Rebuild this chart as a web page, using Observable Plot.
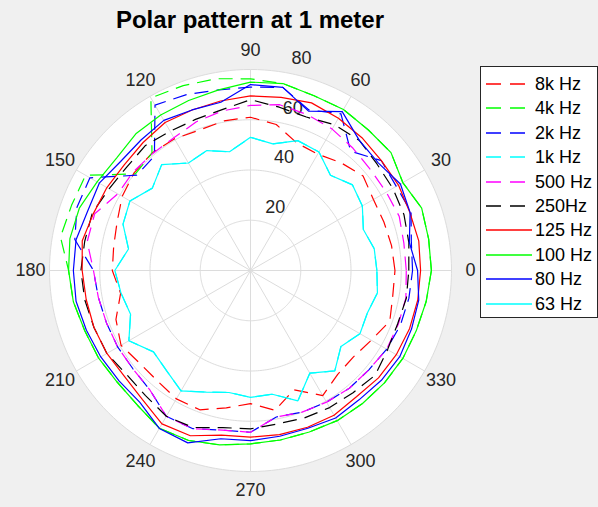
<!DOCTYPE html>
<html>
<head>
<meta charset="utf-8">
<script src="https://cdn.jsdelivr.net/npm/d3@7"></script>
<script src="https://cdn.jsdelivr.net/npm/@observablehq/plot@0.6"></script>
<style>
  html, body { margin: 0; padding: 0; background: #f0f0f0; }
  #wrap { position: relative; width: 598px; height: 507px; overflow: hidden;
          font-family: "Liberation Sans", Arial, Helvetica, sans-serif; }
  #wrap > svg { position: absolute; left: 0; top: 0; }
  #title { position: absolute; left: 0; top: 8px; width: 500px; text-align: center;
           font-weight: bold; font-size: 24px; line-height: 24px; color: #000; }
  #legend { position: absolute; left: 480px; top: 66px; width: 118px; height: 252px;
            background: #fff; border: 1px solid #262626; box-sizing: border-box; }
  #legend .row { position: absolute; left: 0; height: 22px; width: 116px; }
  #legend .row svg { position: absolute; left: 5px; top: 9px; }
  #legend .row span { position: absolute; left: 54px; top: 0; font-size: 18px; line-height: 22px;
                      color: #000; white-space: nowrap; }
</style>
</head>
<body>
<div id="wrap">
  <div id="title">Polar pattern at 1 meter</div>
  <div id="legend"></div>
</div>
<script>
// Measurement angles in degrees (0 = right, counter-clockwise)
const angles = d3.range(0, 360, 10);

// Sound level per angle for each frequency band
const hz8k  = [57.5,57,56.5,56.5,58.5,56,53.5,54,59,61,60.5,59.5,60.5,61,60.5,59,56.5,55.3,55,52.5,57,59.5,57.5,57.5,59,59,55.5,53,56.5,50.5,57.5,54,53.5,55.5,59,57.5];
const hz4k  = [72,72,72.5,70,73,73,74,74,75.5,76.3,77.5,78.3,79.3,61,59.8,75.8,75.8,76.8,72.4,71.6,70.2,69.8,69.2,70,72.5,72,70.5,69,68.5,68.4,69,69.2,69.6,70,70.2,71];
const hz2k  = [64.5,65,68,67,68,62,72,68,74,73,73,74.5,76,59.5,59,73.8,73.5,71,62.5,61.5,61,61,61,62.2,67,67,64.5,64.4,59.2,60,60.5,61.2,61.5,62.6,63.5,64];
const hz1k  = [50.3,50,47.8,51.4,53,49.5,54.5,55,51.2,53,48,50.8,49.4,55,51,55.4,54,49.3,54,52.3,50.8,55.9,50.4,52,55.3,51.5,49.3,50.5,50,55.2,47.2,52.2,47,50.3,49.5,51.3];
const hz500 = [62,62,63,62.4,62.4,63.5,65,66,67,65.7,64.5,63,61,60.7,61,61,66,66,62.5,61.5,61,61,61,62.2,67,67,64.5,64.4,59.2,60,60.5,61.2,61.5,62.6,62.6,62.8];
const hz250 = [63,64,65,65.4,65.8,67.5,67,65,66,68,65,64,64,65,64.2,65,67,67,67.5,67,66.3,66,64.4,65,67,66.5,63.5,63,62,62.5,63,63.5,64.8,63,62.3,63];
const hz125 = [67.7,68,67.5,68,68,69,70,71,70,69.5,68.5,68,68,66.5,65.5,66,66.5,68,67,66.4,66.3,66,65.5,67,70.5,70,66.5,66.3,66.3,66.4,66.5,65.6,66.5,67,67.4,67.6];
const hz100 = [72,72,72.5,70,73,73,74,74,75.5,75,73,72,71.5,71,69.6,70.5,72.5,73,72.4,71.6,70.2,69.8,69.2,70,72.5,72,70.5,69,68.5,68.4,69,69.2,69.6,70,70.2,71];
const hz80  = [66.5,64.2,67.6,68.9,66.5,67.5,73,67.5,74,74,68,68,69,67.8,67.5,69.5,69,70.5,70.5,70.5,69.5,68.8,68.3,68.5,72.6,73,68,67.7,67,66.8,67.8,67.2,68,68.6,68.2,68];
const hz63  = [50.3,50,47.8,51.4,53,49.5,54.5,55,51.2,53,48,50.8,49.4,55,51,55.4,54,49.3,54,52.3,50.8,55.9,50.4,52,55.3,51.5,49.3,50.5,50,55.2,47.2,52.2,47,50.3,49.5,51.3];

const seriesNames  = ["8k Hz", "4k Hz", "2k Hz", "1k Hz", "500 Hz", "250Hz", "125 Hz", "100 Hz", "80 Hz", "63 Hz"];
const seriesValues = [hz8k, hz4k, hz2k, hz1k, hz500, hz250, hz125, hz100, hz80, hz63];
const seriesColors = ["#ff0000", "#00ff00", "#0000ff", "#00ffff", "#ff00ff", "#000000", "#ff0000", "#00ff00", "#0000ff", "#00ffff"];
const seriesDashed = [true, true, true, true, true, true, false, false, false, false];

// Polar axes ticks
const ringTicks  = [20, 40, 60, 80];
const spokeTicks = d3.range(0, 360, 30);
const R_MAX = 80;

// Layout of the polar axes inside the SVG
const W = 598, H = 507, CX = 250, CY = 270, R_PX = 201;
const k = R_PX / R_MAX;
const LABEL_R = 220 / k;
const DASH = "14,8";
const GRID = "#dcdcdc";
const TEXT = "#262626";

const rad = (a) => a * Math.PI / 180;
const px = (a, r) => r * Math.cos(rad(a));
const py = (a, r) => r * Math.sin(rad(a));

const circleSteps = d3.range(0, 360, 1);
const ringPoints = ringTicks.flatMap((r) => circleSteps.map((a) => ({a, r})));

const seriesMarks = seriesValues.map((values, i) =>
  Plot.line(values.map((r, j) => ({a: angles[j], r})), {
    x: (d) => px(d.a, d.r),
    y: (d) => py(d.a, d.r),
    stroke: seriesColors[i],
    strokeWidth: 1.2,
    strokeDasharray: seriesDashed[i] ? DASH : null,
    strokeLinecap: "butt",
    strokeLinejoin: "miter",
    curve: "linear-closed"
  })
);

const chart = Plot.plot({
  width: W,
  height: H,
  margin: 0,
  x: {domain: [-CX / k, (W - CX) / k], range: [0, W], axis: null},
  y: {domain: [-(H - CY) / k, CY / k], range: [H, 0], axis: null},
  style: {background: "transparent", fontFamily: "'Liberation Sans', Arial, Helvetica, sans-serif"},
  marks: [
    // white plotting disc
    Plot.line(circleSteps, {
      x: (a) => px(a, R_MAX), y: (a) => py(a, R_MAX),
      fill: "white", stroke: "none", curve: "linear-closed"
    }),
    // concentric rings
    Plot.line(ringPoints, {
      x: (d) => px(d.a, d.r), y: (d) => py(d.a, d.r), z: "r",
      stroke: GRID, strokeWidth: 1, curve: "linear-closed"
    }),
    // radial spokes
    Plot.link(spokeTicks, {
      x1: () => 0, y1: () => 0,
      x2: (a) => px(a, R_MAX), y2: (a) => py(a, R_MAX),
      stroke: GRID, strokeWidth: 1
    }),
    // radius tick labels along 80°
    Plot.text(ringTicks, {
      x: (r) => px(80, r), y: (r) => py(80, r),
      text: (r) => String(r), dx: 16, dy: -14,
      fontSize: 18, fill: TEXT
    }),
    ...seriesMarks,
    // angle tick labels
    Plot.text(spokeTicks, {
      x: (a) => px(a, LABEL_R), y: (a) => py(a, LABEL_R),
      text: (a) => String(a), fontSize: 18, fill: TEXT
    })
  ]
});

document.getElementById("wrap").prepend(chart);

// Legend
const legend = document.getElementById("legend");
seriesNames.forEach((name, i) => {
  const row = document.createElement("div");
  row.className = "row";
  row.style.top = (6 + i * 24.4) + "px";
  const sw = d3.create("svg").attr("width", 48).attr("height", 4);
  sw.append("line")
    .attr("x1", 0).attr("x2", 46).attr("y1", 2).attr("y2", 2)
    .attr("stroke", seriesColors[i]).attr("stroke-width", 1.4)
    .attr("stroke-dasharray", seriesDashed[i] ? "15,9" : null);
  row.appendChild(sw.node());
  const label = document.createElement("span");
  label.textContent = name;
  row.appendChild(label);
  legend.appendChild(row);
});
</script>
</body>
</html>
